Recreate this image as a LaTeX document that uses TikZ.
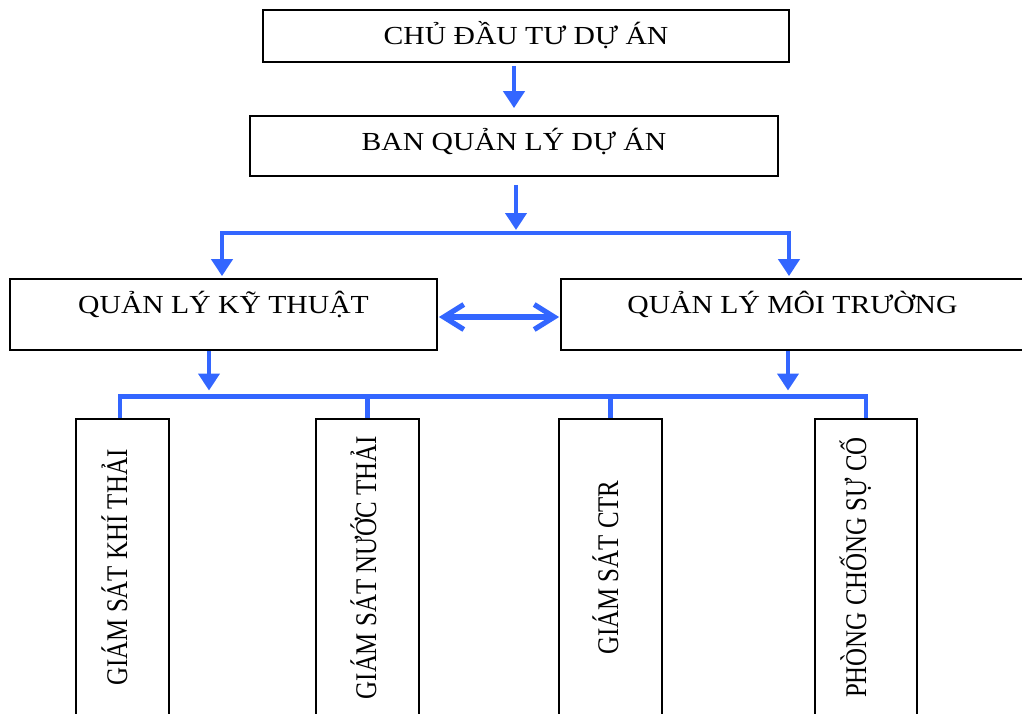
\documentclass[tikz,border=0pt]{standalone}
\usepackage{fontspec}
\usepackage{graphicx}
\usetikzlibrary{arrows.meta}
\newfontfamily\hfont[FakeStretch=1.14]{Liberation Serif}
\newfontfamily\vfont[FakeStretch=0.83]{Liberation Serif}
\definecolor{linkblue}{RGB}{51,102,255}
\tikzset{
	box/.style={draw, line width=0.9pt, inner sep=0pt, text height=9pt,
		font=\hfont\fontsize{13pt}{15pt}\selectfont},
	vbox/.style={draw, line width=0.9pt, inner sep=0pt, minimum height=148.5pt,
		font=\vfont\fontsize{15pt}{17pt}\selectfont},
	link/.style={draw=linkblue, line width=2.4pt},
	arr/.style={link, -{Triangle[width=10.5pt,length=8.5pt]}},
	both/.style={link, line width=2.6pt, line cap=round,
		{Straight Barb[length=10pt,width=12.5pt]}-{Straight Barb[length=10pt,width=12.5pt]}}
}

\begin{document}
\begin{tikzpicture}[x=0.5pt,y=-0.5pt]
		\useasboundingbox (0,0) rectangle (1022,713);
		
		%top boxes
		\node[box, minimum width=263pt, minimum height=26pt, text depth=0.4pt] (chu) at (526,36) {CHỦ ĐẦU TƯ DỰ ÁN};
		\node[box, minimum width=264pt, minimum height=30pt, text depth=4.3pt] (ban) at (514,146) {BAN QUẢN LÝ DỰ ÁN};
		\node[box, minimum width=213.5pt, minimum height=35.5pt, text depth=9.9pt] (kt) at (223.5,314.5) {QUẢN LÝ KỸ THUẬT};
		\node[box, minimum width=231.5pt, minimum height=35.5pt, text depth=9.9pt] (mt) at (792.5,314.5) {QUẢN LÝ MÔI TRƯỜNG};
		
		% bottom boxes, text turned up (\d moves the text sideways)
		\foreach \n/\x/\w/\d/\texto in {1/122.5/46.5/4.5/{GIÁM SÁT KHÍ THẢI},2/367.5/51.5/8.5/{GIÁM SÁT NƯỚC THẢI},
			3/610.5/51.5/7.5/{GIÁM SÁT CTR},4/866/51/0/{PHÒNG CHỐNG SỰ CỐ}}
		{
			\node[vbox, minimum width=\w pt] (g\n) at (\x,567.5) {\hspace*{\d pt}\rotatebox{90}{\smash{\texto}}};
		}
		
		\coordinate (split) at (516,233);
		\coordinate (bus) at (490,396.5);
		
		% arrows down
		\draw[arr, shorten <=1.5pt, shorten >=3.5pt] (ban.north |- chu.south) -- (ban.north);
		\draw[arr, shorten <=4pt, shorten >=1.5pt] (ban.south -| split) -- (split);
		\draw[arr, shorten >=1pt] (split) -| ([xshift=-0.75pt]kt.north);
		\draw[arr, shorten >=1pt] (split) -| ([xshift=-1.75pt]mt.north);
		
		% between the two managers
		\draw[both, shorten <=0.5pt, shorten >=0.5pt] ([yshift=-1.25pt]kt.east) -- ([yshift=-1.25pt]mt.west);
		
		% to the bus line
		\draw[arr, shorten >=3pt] ([xshift=-7.25pt]kt.south) -- ([xshift=-7.25pt]kt.south |- bus);
		\draw[arr, shorten >=3pt] ([xshift=-2.25pt]mt.south) -- ([xshift=-2.25pt]mt.south |- bus);
		\draw[link] ([xshift=-1.25pt]g1.north) |- (bus) -| (g4.north);
		\foreach \n in {2,3}
		{
			\draw[link] (g\n.north) -- (g\n.north |- bus);
		}
		
	\end{tikzpicture}
\end{document}
